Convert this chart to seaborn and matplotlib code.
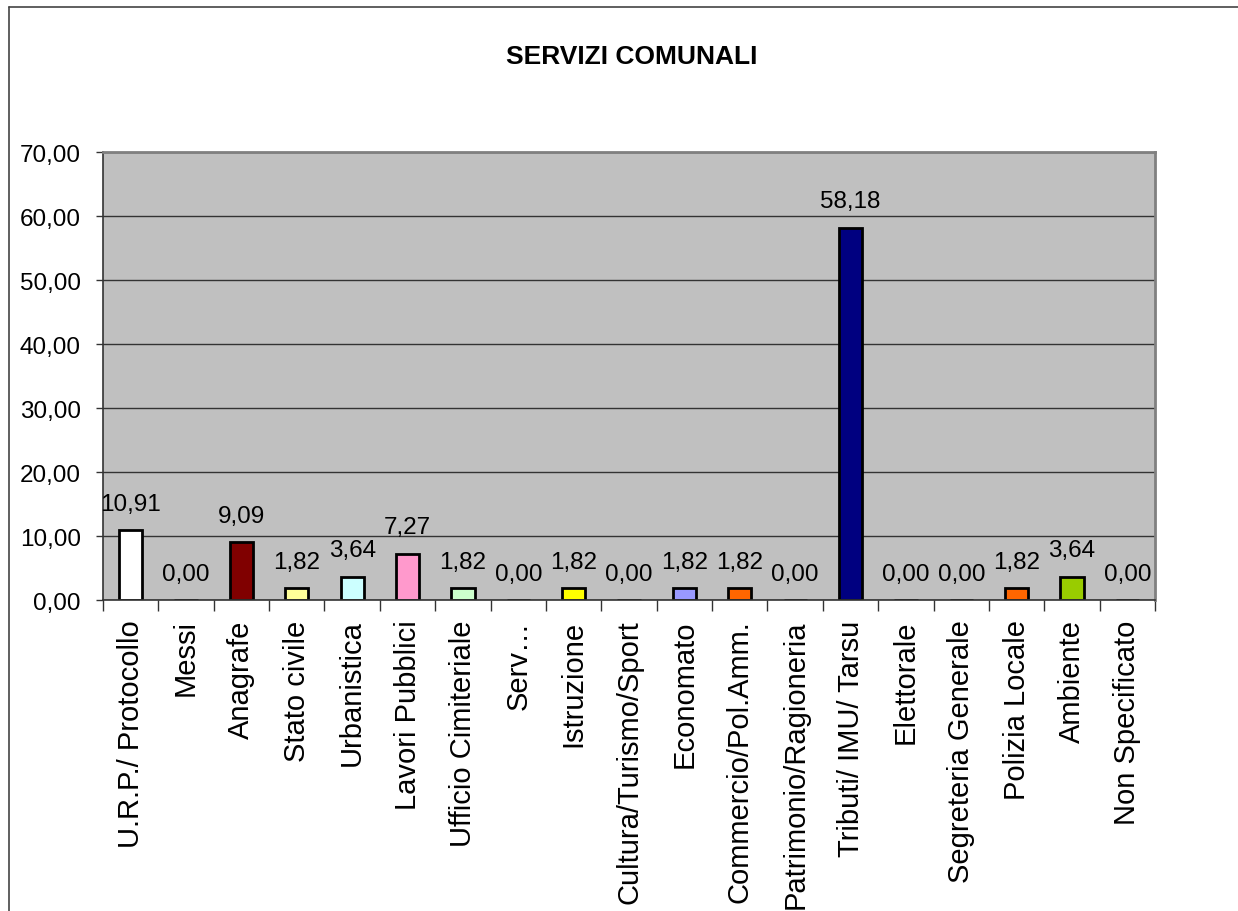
import matplotlib
matplotlib.use("Agg")
import matplotlib.pyplot as plt
import seaborn as sns
import pandas as pd
from matplotlib.lines import Line2D
from matplotlib.ticker import FixedLocator, FuncFormatter

# Dati del grafico
categorie = ["U.R.P./ Protocollo", "Messi", "Anagrafe", "Stato civile", "Urbanistica",
             "Lavori Pubblici", "Ufficio Cimiteriale", "Serv…", "Istruzione",
             "Cultura/Turismo/Sport", "Economato", "Commercio/Pol.Amm.",
             "Patrimonio/Ragioneria", "Tributi/ IMU/ Tarsu", "Elettorale",
             "Segreteria Generale", "Polizia Locale", "Ambiente", "Non Specificato"]
valori = [10.91, 0.00, 9.09, 1.82, 3.64, 7.27, 1.82, 0.00, 1.82, 0.00,
          1.82, 1.82, 0.00, 58.18, 0.00, 0.00, 1.82, 3.64, 0.00]
colori = ["#FFFFFF", "#C0C0C0", "#800000", "#FFFF99", "#CCFFFF", "#FF99CC", "#CCFFCC",
          "#C0C0C0", "#FFFF00", "#C0C0C0", "#9999FF", "#FF6600", "#C0C0C0", "#000080",
          "#C0C0C0", "#C0C0C0", "#FF6600", "#99CC00", "#C0C0C0"]
y_ticks = [0, 10, 20, 30, 40, 50, 60, 70]

df = pd.DataFrame({"categoria": categorie, "valore": valori})

sns.set_style("white")
plt.rcParams["font.family"] = ["Liberation Sans", "DejaVu Sans"]
plt.rcParams["text.color"] = "black"
plt.rcParams["xtick.color"] = "black"
plt.rcParams["ytick.color"] = "black"

fig = plt.figure(figsize=(12.38, 9.12), dpi=100)
ax = fig.add_axes([0.0832, 0.341, 0.8498, 0.491])
ax.set_facecolor("#C0C0C0")

sns.barplot(data=df, x="categoria", y="valore", hue="categoria", palette=colori,
            saturation=1, legend=False, width=0.42, edgecolor="black", linewidth=2, ax=ax)

ax.set_ylim(0, 70)
ax.set_xlim(-0.5, len(categorie) - 0.5)
ax.yaxis.set_major_locator(FixedLocator(y_ticks))
ax.yaxis.set_major_formatter(FuncFormatter(lambda v, p: f"{v:.2f}".replace(".", ",")))
ax.grid(axis="y", color="#333333", linewidth=1)
ax.set_axisbelow(True)

# etichette dei valori
for i, v in enumerate(valori):
    ax.text(i, v + 2.4, f"{v:.2f}".replace(".", ","), ha="center", va="bottom",
            fontsize=17.5, color="black")

ax.set_xlabel("")
ax.set_ylabel("")
ax.set_xticks(range(len(categorie)))
ax.set_xticklabels(categorie, rotation=90, fontsize=21, va="top")
ax.tick_params(axis="x", which="major", length=0, pad=14)
ax.xaxis.set_minor_locator(FixedLocator([i - 0.5 for i in range(len(categorie) + 1)]))
ax.tick_params(axis="x", which="minor", length=8, width=1, color="#333333", direction="out", bottom=True)
ax.tick_params(axis="y", length=5, width=1, color="#333333", direction="out", labelsize=17.5, left=True, pad=11)

for s in ["left", "bottom"]:
    ax.spines[s].set_color("#333333")
    ax.spines[s].set_linewidth(1.2)
for s in ["top", "right"]:
    ax.spines[s].set_color("#808080")
    ax.spines[s].set_linewidth(2)

fig.text(0.51, 0.937, "SERVIZI COMUNALI", ha="center", va="center", fontsize=19, fontweight="bold")

# cornice del grafico
fig.add_artist(Line2D([0.0073, 0.0073], [0, 0.991], color="#444444", linewidth=1.2))
fig.add_artist(Line2D([0.0073, 1.0], [0.991, 0.991], color="#444444", linewidth=1.2))

fig.savefig("out.png", dpi=100)
